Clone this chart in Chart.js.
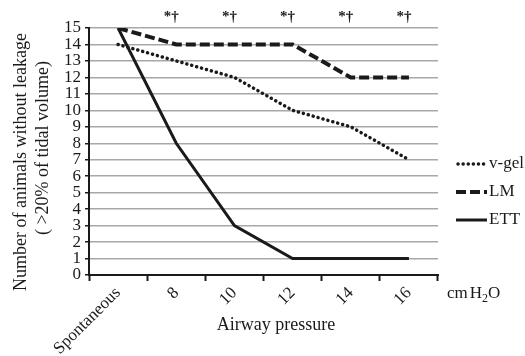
<!DOCTYPE html>
<html>
<head>
<meta charset="utf-8">
<script src="https://cdn.jsdelivr.net/npm/chart.js@4.4.1/dist/chart.umd.min.js"></script>
<style>
  html, body { margin: 0; padding: 0; background: #fff; }
  canvas { display: block; }
</style>
</head>
<body>
<canvas id="chart" width="525" height="356"></canvas>
<script>
// valores
const categories = ['Spontaneous', '8', '10', '12', '14', '16'];
const vgelValues = [14, 13, 12, 10, 9, 7];
const lmValues = [15, 14, 14, 14, 12, 12];
const ettValues = [15, 8, 3, 1, 1, 1];
const seriesNames = ['v-gel', 'LM', 'ETT'];
const significance = ['', '*†', '*†', '*†', '*†', '*†'];
const yTicks = [0, 1, 2, 3, 4, 5, 6, 7, 8, 9, 10, 11, 12, 13, 14, 15];

const SERIF = '"Liberation Serif", "Times New Roman", serif';
const INK = '#1a1a1a';

// textos extra: marcas de significancia, leyenda, títulos de ejes
const overlay = {
  id: 'overlay',
  afterDraw(chart) {
    const ctx = chart.ctx;
    const xs = chart.scales.x;
    const area = chart.chartArea;
    ctx.save();
    ctx.fillStyle = INK;

    ctx.font = 'bold 15px ' + SERIF;
    ctx.textAlign = 'center';
    ctx.textBaseline = 'middle';
    significance.forEach((s, i) => {
      if (s) ctx.fillText(s, xs.getPixelForValue(i) - 5, area.top - 11);
    });

    // leyenda
    ctx.font = '17px ' + SERIF;
    ctx.textAlign = 'left';
    chart.data.datasets.forEach((ds, i) => {
      const y = area.top + 136 + i * 28;
      const x0 = area.right + 18;
      ctx.save();
      ctx.strokeStyle = ds.borderColor;
      ctx.lineWidth = ds.borderWidth;
      ctx.lineCap = ds.borderCapStyle || 'butt';
      ctx.setLineDash(ds.borderDash || []);
      ctx.beginPath();
      ctx.moveTo(x0 + (ds.borderCapStyle === 'round' ? 2 : 0), y);
      ctx.lineTo(x0 + 31, y);
      ctx.stroke();
      ctx.restore();
      ctx.fillText(ds.label, x0 + 33, y);
    });

    // cmH2O
    ctx.textBaseline = 'alphabetic';
    ctx.font = '17px ' + SERIF;
    let cx = area.right + 9;
    const cy = area.bottom + 23;
    ctx.fillText('cm', cx, cy);
    cx += ctx.measureText('cm').width + 2;
    ctx.fillText('H', cx, cy);
    cx += ctx.measureText('H').width;
    ctx.font = '12px ' + SERIF;
    ctx.fillText('2', cx, cy + 4);
    cx += ctx.measureText('2').width;
    ctx.font = '17px ' + SERIF;
    ctx.fillText('O', cx, cy);

    // título eje x
    ctx.font = '18px ' + SERIF;
    ctx.textAlign = 'center';
    ctx.textBaseline = 'middle';
    ctx.fillText('Airway pressure', 276, area.bottom + 50);

    // título eje y (dos líneas)
    ctx.save();
    ctx.translate(21, 162);
    ctx.rotate(-Math.PI / 2);
    ctx.fillText('Number of animals without leakage', 0, 0);
    ctx.restore();
    ctx.save();
    ctx.translate(43, 148);
    ctx.rotate(-Math.PI / 2);
    ctx.fillText('( >20% of tidal volume)', 0, 0);
    ctx.restore();

    ctx.restore();
  }
};

const ctx = document.getElementById('chart').getContext('2d');
new Chart(ctx, {
  type: 'line',
  data: {
    labels: categories,
    datasets: [{
      label: seriesNames[0],
      data: vgelValues,
      borderColor: INK,
      borderWidth: 3.5,
      borderDash: [0.1, 5],
      borderCapStyle: 'round',
      pointRadius: 0,
      tension: 0
    }, {
      label: seriesNames[1],
      data: lmValues,
      borderColor: INK,
      borderWidth: 4,
      borderDash: [10, 4],
      pointRadius: 0,
      tension: 0
    }, {
      label: seriesNames[2],
      data: ettValues,
      borderColor: INK,
      borderWidth: 3,
      pointRadius: 0,
      tension: 0
    }]
  },
  options: {
    responsive: false,
    animation: false,
    devicePixelRatio: 1,
    layout: { padding: { top: 28, right: 87, left: 0, bottom: 0 } },
    plugins: {
      legend: { display: false },
      tooltip: { enabled: false }
    },
    scales: {
      x: {
        offset: true,
        grid: { offset: true, drawOnChartArea: false, tickColor: INK, tickLength: 6, tickWidth: 2 },
        border: { color: INK, width: 2 },
        ticks: {
          color: INK,
          font: { family: SERIF, size: 17 },
          maxRotation: 45,
          minRotation: 45,
          padding: 2
        },
        afterFit(scale) { scale.height = 81; }
      },
      y: {
        min: 0,
        max: 15,
        afterBuildTicks(scale) { scale.ticks = yTicks.map(v => ({ value: v })); },
        grid: { color: '#a8a8a8', lineWidth: 1.5, tickColor: INK, tickLength: 4 },
        border: { color: INK, width: 2 },
        ticks: {
          color: INK,
          font: { family: SERIF, size: 17, lineHeight: 1 },
          padding: 4,
          autoSkip: false
        },
        afterFit(scale) { scale.width = 89; }
      }
    }
  },
  plugins: [overlay]
});
</script>
</body>
</html>
